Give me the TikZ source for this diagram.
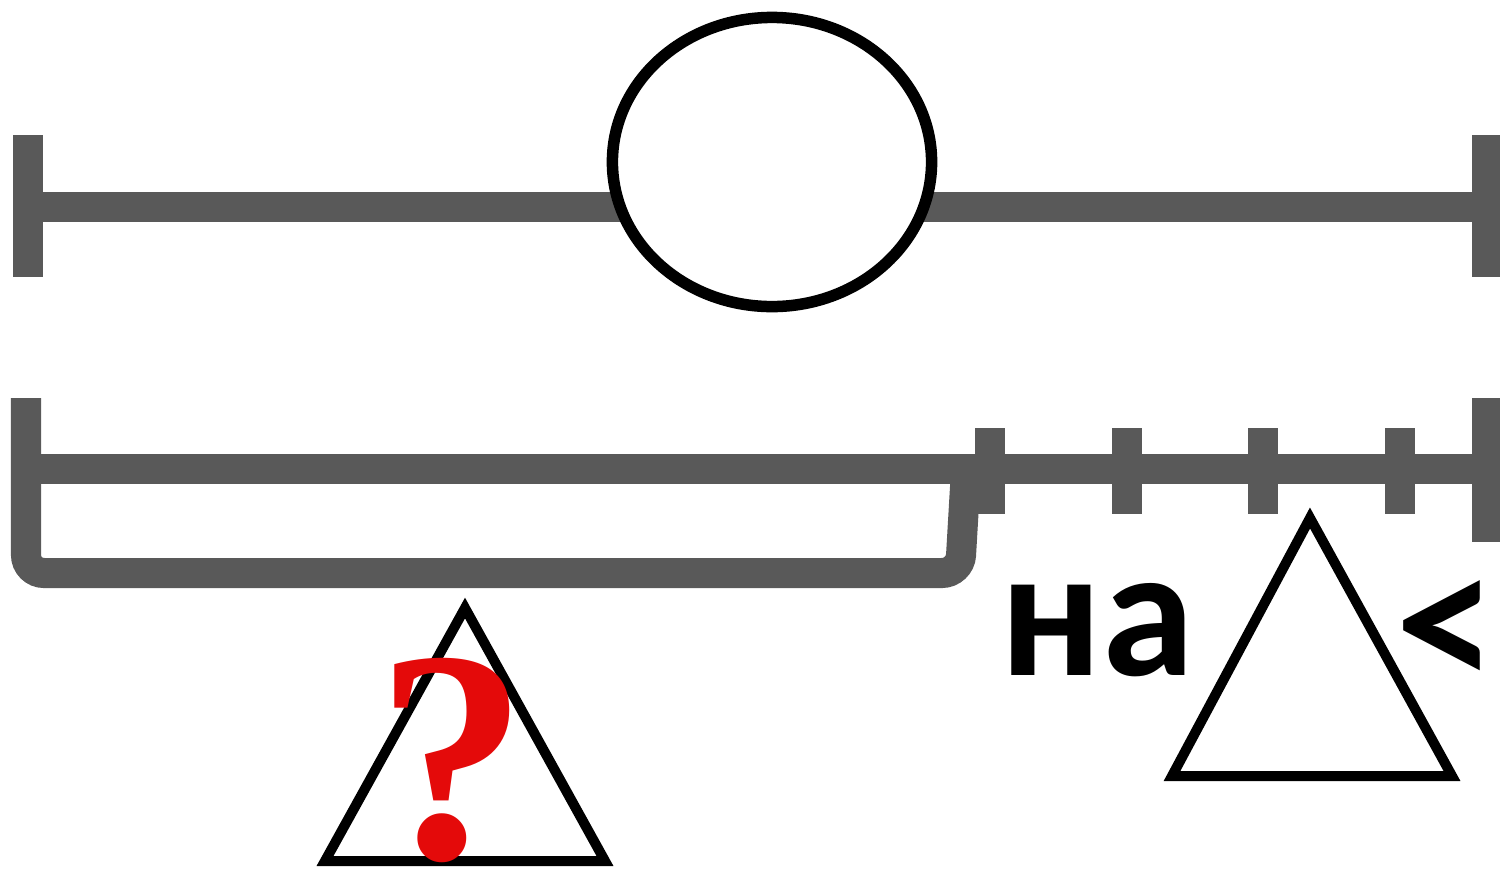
\documentclass[tikz,border=0pt]{standalone}
\usepackage{fontspec}
\setmainfont{Liberation Serif}
\newfontfamily\calfont{Carlito}
\usetikzlibrary{shapes.geometric}
\definecolor{bargray}{RGB}{89,89,89}
\definecolor{qred}{RGB}{228,10,10}
\tikzset{
  bar/.style={draw=bargray, line width=0.3cm},
  tickbar/.style={draw=bargray, line width=0.3cm},
  tri/.style={draw=black, line width=0.1cm, line join=miter},
  lbl/.style={inner sep=0pt, font=\calfont\bfseries\fontsize{53}{53}\selectfont}
}
\begin{document}
\begin{tikzpicture}[x=0.01cm, y=-0.01cm]
\useasboundingbox (0,0) rectangle (1500,869);
\fill[white] (0,0) rectangle (1500,869);
% top segment
\draw[bar] (28,207) -- (1487,207);
\draw[bar] (28,135) -- (28,277);
\draw[bar] (1487,135) -- (1487,277);
\node (circ) [draw=black, fill=white, ellipse, line width=0.115cm, minimum width=3.19cm, minimum height=2.89cm, inner sep=0pt] at (772,162) {};
% bottom segment
\draw[bar] (27,469) -- (1487,469);
\draw[bar, rounded corners=0.18cm] (26,398) -- (26,573) -- (960,573) -- (966,470);
\draw[bar] (1487,398) -- (1487,542);
\foreach \tx in {990,1127,1263,1400} {
  \draw[tickbar] (\tx,428) -- (\tx,514);
}
% triangles
\draw[tri] (325,861) -- (465,608) -- (605,861) -- cycle;
\draw[tri] (1172,776) -- (1310,518) -- (1452,776) -- cycle;
% question mark
\node (q) [inner sep=0pt, anchor=base, text=qred, font=\bfseries\fontsize{86}{86}\selectfont] at (452,858) {?};
% labels
\node (na) [lbl, anchor=base west] at (1000,675) {на};
\node (lt) [lbl, anchor=center, font=\calfont\bfseries\fontsize{58}{58}\selectfont] at (1446,636) {<};
\end{tikzpicture}
\end{document}
